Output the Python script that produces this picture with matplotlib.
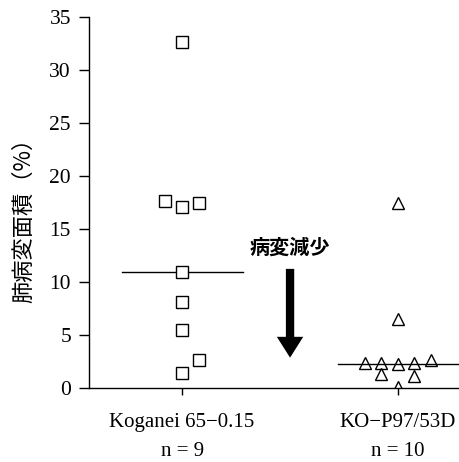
import matplotlib.pyplot as plt

# Data
groups = ["Koganei 65\u22120.15\nn = 9", "KO\u2212P97/53D\nn = 10"]
koganei_vals = [32.6, 17.6, 17.1, 17.5, 10.9, 8.1, 5.5, 2.6, 1.4]
koganei_offs = [0, -0.08, 0, 0.08, 0, 0, 0, 0.08, 0]
ko_vals = [17.5, 6.5, 2.4, 2.4, 2.3, 2.4, 2.6, 1.3, 1.1, 0.1]
ko_offs = [0, 0, -0.155, -0.08, 0, 0.075, 0.155, -0.08, 0.075, 0]
medians = [10.9, 2.3]

serif = ["Liberation Serif", "DejaVu Serif"]
cjk = ["Noto Sans CJK JP", "DejaVu Sans"]

fig = plt.figure(figsize=(4.6, 4.62), dpi=100)
ax = fig.add_axes([89 / 460, 1 - 388 / 462, 371 / 460, 371 / 462])

ax.plot([1 + o for o in koganei_offs], koganei_vals, ls="none", marker="s",
        ms=8, mfc="white", mec="black", mew=1.0, zorder=3)
ax.plot([2 + o for o in ko_offs], ko_vals, ls="none", marker="^",
        ms=9, mfc="none", mec="black", mew=1.0, zorder=3)

# median lines
ax.plot([0.72, 1.28], [medians[0]] * 2, color="black", lw=1.0, zorder=2)
ax.plot([1.72, 2.3], [medians[1]] * 2, color="black", lw=1.0, zorder=2)

# arrow
ax.annotate("", xy=(1.5, 2.6), xytext=(1.5, 11.5),
            arrowprops=dict(arrowstyle="simple,head_width=1.9,head_length=1.5,tail_width=0.6",
                            color="black", lw=0))
ax.text(1.5, 13.3, "病変減少", ha="center", va="center", fontsize=14.5,
        fontweight="bold", family=cjk)

ax.set_xlim(0.569, 2.287)
ax.set_ylim(0, 35)
ax.set_yticks(range(0, 36, 5))
ax.set_xticks([1, 2])
ax.set_xticklabels(groups, family=serif, fontsize=15, linespacing=1.7)
for lab in ax.get_yticklabels():
    lab.set_family(serif)
    lab.set_fontsize(15.5)
ax.tick_params(axis="y", direction="out", length=7, width=1, pad=6)
ax.tick_params(axis="x", direction="out", length=5, width=1, pad=13)
for s in ["top", "right"]:
    ax.spines[s].set_visible(False)
for s in ["left", "bottom"]:
    ax.spines[s].set_linewidth(1.0)
ax.set_ylabel("肺病変面積（%）", family=cjk, fontsize=16)
ax.yaxis.set_label_coords(-0.146, 0.466)

fig.savefig("out.png", dpi=100)
